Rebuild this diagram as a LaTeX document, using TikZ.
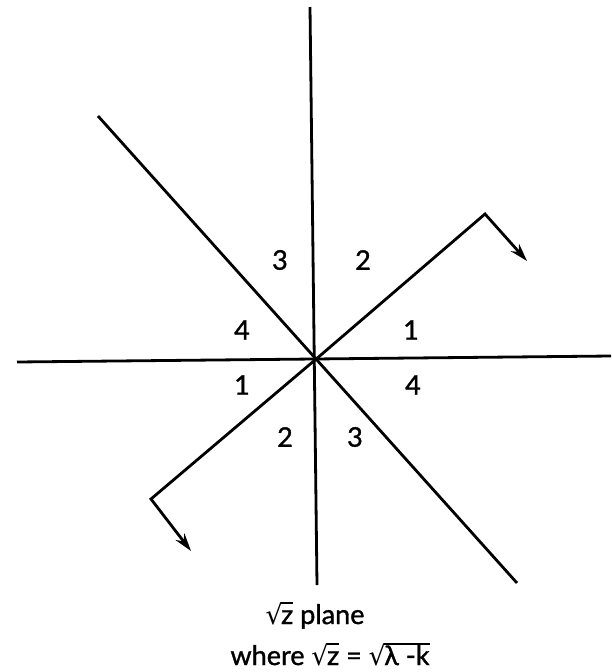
\documentclass[tikz,border=0pt]{standalone}
\usepackage{fontspec}
\setmainfont{Lato}[FakeBold=1.2]
\newfontfamily\symf{DejaVu Sans}
\usetikzlibrary{arrows.meta}
\newsavebox\radbox
\newsavebox\radsign
\newcommand\myrad[1]{\sbox\radbox{#1}\sbox\radsign{\symf √}%
  \usebox\radsign\kern-0.06em\rlap{\rule[\dimexpr\ht\radsign-0.07em\relax]{\wd\radbox}{0.07em}}\usebox\radbox}
\begin{document}
\begin{tikzpicture}[x=1pt,y=-1pt,
  axis/.style={line width=2.8pt},
  arr/.style={line width=2.8pt, -{Stealth[length=18pt,width=11pt]}, line join=miter},
  num/.style={font=\fontsize{27}{32}\selectfont, inner sep=0pt},
  caption/.style={font=\fontsize{27}{32}\selectfont, inner sep=0pt, anchor=base}]
\useasboundingbox (0,0) rectangle (611,672);
\coordinate (O) at (315,360);
\coordinate (vt) at (310,7);
\coordinate (vb) at (317,585);
\coordinate (hl) at (17,362);
\coordinate (hr) at (611,356);
\coordinate (d1a) at (98,116);
\coordinate (d1b) at (517,583);
\coordinate (c1) at (485,214);
\coordinate (t1) at (527,261);
\coordinate (c2) at (151,499);
\coordinate (t2) at (191,551);
\draw[axis] (vt) -- (vb);
\draw[axis] (hl) -- (hr);
\draw[axis] (d1a) -- (d1b);
\draw[arr] (O) -- (c1) -- (t1);
\draw[arr] (O) -- (c2) -- (t2);
\node[num] (n3a) at (280,260) {3};
\node[num] (n2a) at (363,260) {2};
\node[num] (n4a) at (242,330) {4};
\node[num] (n1a) at (411,330) {1};
\node[num] (n1b) at (242,385) {1};
\node[num] (n4b) at (413,385) {4};
\node[num] (n2b) at (285,437) {2};
\node[num] (n3b) at (355,437) {3};
\node[caption] (cap1) at (315,624) {\myrad{z} plane};
\node[caption] (cap2) at (330,665) {where\ \myrad{z} = \myrad{λ -k}};
\end{tikzpicture}
\end{document}
